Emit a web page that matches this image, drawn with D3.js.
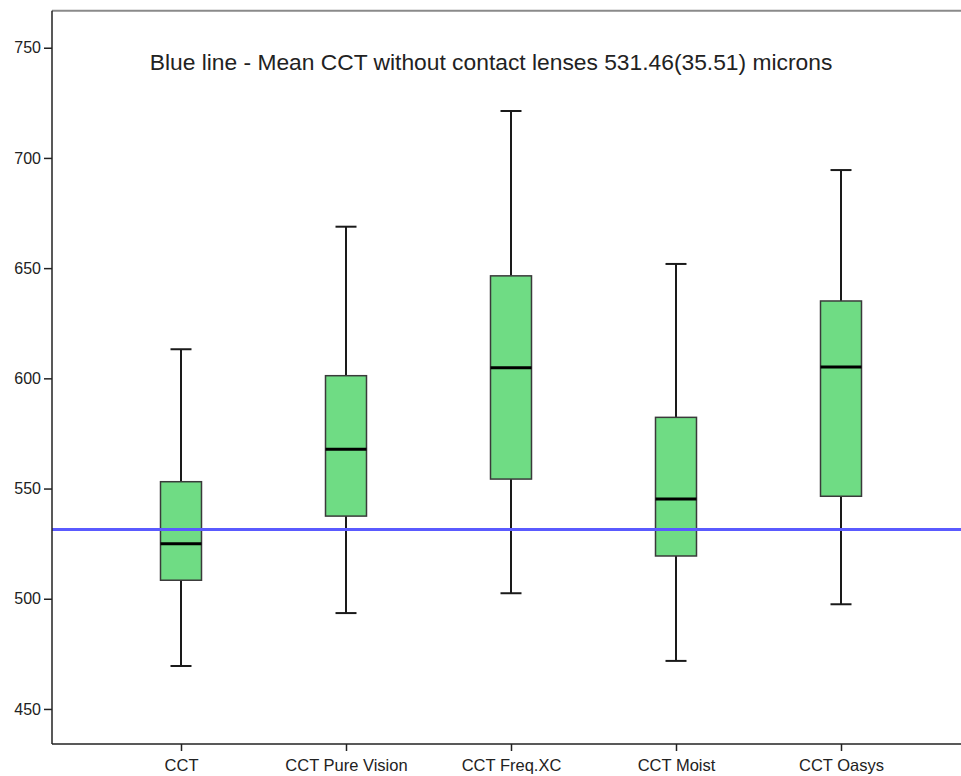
<!DOCTYPE html>
<html><head><meta charset="utf-8">
<script src="https://cdn.jsdelivr.net/npm/d3@7"></script>
<style>body{margin:0;background:#fff}svg{display:block}</style>
</head><body>
<script>
const categories = ["CCT","CCT Pure Vision","CCT Freq.XC","CCT Moist","CCT Oasys"];
const whiskerLow = [469.5, 493.5, 502.5, 471.8, 497.5];
const q1         = [508.4, 537.5, 554.3, 519.4, 546.5];
const medians    = [524.9, 567.8, 604.8, 545.3, 605.1];
const q3         = [553.1, 601.2, 646.5, 582.3, 635.1];
const whiskerHigh= [613.2, 668.8, 721.3, 651.9, 694.5];
const meanCCT = 531.46;
const yTicks = [450, 500, 550, 600, 650, 700, 750];
const titleText = "Blue line - Mean CCT without contact lenses 531.46(35.51) microns";

(function(){
const W = 961, H = 776;
const pLeft = 52, pTop = 10.7, pBottom = 744, pRight = 961;
const svg = d3.select("body").append("svg").attr("width", W).attr("height", H);

const y = d3.scaleLinear().domain([434.1, 766.8]).range([pBottom, pTop]);
const x = d3.scalePoint().domain(categories).range([181, 841]);

const data = categories.map((c,i)=>({c, lo:whiskerLow[i], q1:q1[i], med:medians[i], q3:q3[i], hi:whiskerHigh[i]}));

svg.append("line").attr("x1", pLeft).attr("x2", pRight).attr("y1", pTop).attr("y2", pTop)
  .attr("stroke", "#8a8a8a").attr("stroke-width", 2);

const boxW = 41, capW = 21;
const g = svg.append("g");
data.forEach(d=>{
  const cx = x(d.c);
  g.append("line").attr("x1",cx).attr("x2",cx).attr("y1",y(d.hi)).attr("y2",y(d.q3)).attr("stroke","#1a1a1a").attr("stroke-width",2);
  g.append("line").attr("x1",cx).attr("x2",cx).attr("y1",y(d.q1)).attr("y2",y(d.lo)).attr("stroke","#1a1a1a").attr("stroke-width",2);
  g.append("line").attr("x1",cx-capW/2).attr("x2",cx+capW/2).attr("y1",y(d.hi)).attr("y2",y(d.hi)).attr("stroke","#1a1a1a").attr("stroke-width",2);
  g.append("line").attr("x1",cx-capW/2).attr("x2",cx+capW/2).attr("y1",y(d.lo)).attr("y2",y(d.lo)).attr("stroke","#1a1a1a").attr("stroke-width",2);
  g.append("rect").attr("x",cx-boxW/2).attr("width",boxW).attr("y",y(d.q3)).attr("height",y(d.q1)-y(d.q3))
    .attr("fill","#6fdc84").attr("stroke","#3a3a3a").attr("stroke-width",1.5);
  g.append("line").attr("x1",cx-boxW/2).attr("x2",cx+boxW/2).attr("y1",y(d.med)).attr("y2",y(d.med)).attr("stroke","#000").attr("stroke-width",3);
});

svg.append("line").attr("x1", pLeft).attr("x2", pRight).attr("y1", y(meanCCT)).attr("y2", y(meanCCT))
  .attr("stroke", "#5a5aff").attr("stroke-width", 3);

const yAxis = d3.axisLeft(y).tickValues(yTicks).tickSize(8).tickPadding(3).tickSizeOuter(0);
const ya = svg.append("g").attr("transform", `translate(${pLeft},0)`).call(yAxis);
ya.select(".domain").attr("d", `M0,${pTop}V${pBottom}`).attr("stroke","#222").attr("stroke-width",1.5);
ya.selectAll(".tick line").attr("stroke","#222").attr("stroke-width",1.5);
ya.selectAll("text").attr("font-family","'Liberation Sans', Arial, sans-serif").attr("font-size",16).attr("fill","#222");

const xAxis = d3.axisBottom(x).tickSize(7).tickPadding(8).tickSizeOuter(0);
const xa = svg.append("g").attr("transform", `translate(0,${pBottom})`).call(xAxis);
xa.select(".domain").attr("d", `M${pLeft},0H${pRight}`).attr("stroke","#222").attr("stroke-width",1.5);
xa.selectAll(".tick line").attr("stroke","#222").attr("stroke-width",1.5);
xa.selectAll("text").attr("font-family","'Liberation Sans', Arial, sans-serif").attr("font-size",16.5).attr("fill","#222");

svg.append("text").attr("x", 491).attr("y", 70).attr("text-anchor","middle")
  .attr("font-family","'Liberation Sans', Arial, sans-serif").attr("font-size",22.8).attr("fill","#222")
  .text(titleText);
})();
</script>
</body></html>
